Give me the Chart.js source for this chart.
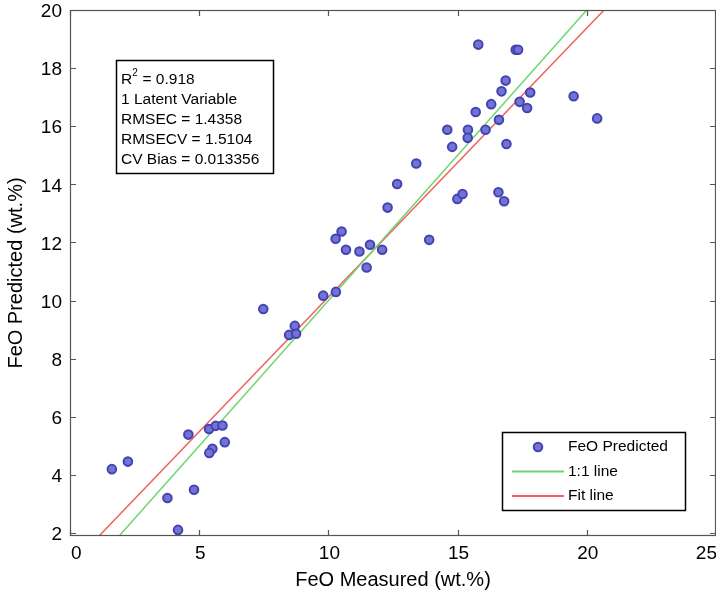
<!DOCTYPE html>
<html>
<head>
<meta charset="utf-8">
<script src="https://cdn.jsdelivr.net/npm/chart.js@4.4.1/dist/chart.umd.min.js"></script>
<style>
body { margin: 0; background: #fff; }
#grafica { display: block; }
</style>
</head>
<body>
<canvas id="grafica" width="716" height="594"></canvas>
<script>
// valores
const feoMedido   = [12.66, 12.29, 10.51, 10.28, 10.68, 11.20, 11.61, 12.08, 11.48, 15.80,
                     17.25, 17.34, 16.86, 16.70, 17.81, 19.49, 16.30, 17.40, 15.70, 17.69,
                     20.40, 16.60, 14.60, 15.40, 16.08, 15.39, 14.79, 16.89, 13.40, 14.99,
                     15.19, 16.58, 16.80, 13.90, 9.80, 10.29, 7.48, 8.70, 8.48, 8.75,
                     4.58, 5.38, 5.64, 5.90, 5.99, 5.51, 5.39, 1.62, 2.24, 3.77,
                     4.80, 4.18];
const feoPredicho = [14.01, 13.20, 12.38, 12.13, 11.75, 11.69, 11.92, 11.75, 11.14, 18.81,
                     18.63, 18.63, 17.57, 17.20, 17.16, 17.03, 16.76, 16.84, 16.49, 16.63,
                     16.27, 16.22, 15.88, 15.88, 15.88, 15.60, 15.29, 15.39, 14.72, 13.50,
                     13.67, 13.73, 13.42, 12.09, 10.17, 10.30, 9.71, 9.13, 8.82, 8.86,
                     5.39, 5.58, 5.69, 5.70, 5.13, 4.90, 4.76, 4.20, 4.46, 3.21,
                     3.49, 2.11];
const lineaUnoX = [0, 25];
const lineaUnoY = [0, 25];
const lineaAjusteX = [0, 25];
const lineaAjusteY = [0.86, 24.01];
const ticksX = [0, 5, 10, 15, 20, 25];
const ticksY = [2, 4, 6, 8, 10, 12, 14, 16, 18, 20];
const estadisticas = ['R^2 = 0.918', '1 Latent Variable', 'RMSEC = 1.4358', 'RMSECV = 1.5104', 'CV Bias = 0.013356'];
const etiquetas = ['FeO Predicted', '1:1 line', 'Fit line'];

const fuente = '"Liberation Sans", Arial, sans-serif';
let grafica;

function puntos(xs, ys) {
    return xs.map((x, i) => ({ x: x, y: ys[i] }));
}

// marco, ticks hacia dentro, caja de texto y leyenda
const marcoPlugin = {
    id: 'marco',
    afterDraw(chart) {
        const ctx = chart.ctx;
        const a = chart.chartArea;
        const sx = chart.scales.x;
        const sy = chart.scales.y;
        ctx.save();
        ctx.strokeStyle = '#555';
        ctx.lineWidth = 1.2;
        ctx.strokeRect(a.left + 0.5, a.top + 0.5, a.right - a.left - 1, a.bottom - a.top - 1);
        ctx.beginPath();
        ticksX.forEach(v => {
            const px = Math.round(sx.getPixelForValue(v)) + 0.5;
            ctx.moveTo(px, a.bottom); ctx.lineTo(px, a.bottom - 6);
            ctx.moveTo(px, a.top); ctx.lineTo(px, a.top + 6);
        });
        ticksY.forEach(v => {
            const py = Math.round(sy.getPixelForValue(v)) + 0.5;
            ctx.moveTo(a.left, py); ctx.lineTo(a.left + 6, py);
            ctx.moveTo(a.right, py); ctx.lineTo(a.right - 6, py);
        });
        ctx.stroke();

        // caja de estadisticas
        ctx.fillStyle = '#fff';
        ctx.fillRect(116.5, 60.5, 157, 113);
        ctx.strokeStyle = '#000';
        ctx.lineWidth = 1.5;
        ctx.strokeRect(116.5, 60.5, 157, 113);
        ctx.fillStyle = '#000';
        ctx.textBaseline = 'alphabetic';
        ctx.textAlign = 'left';
        estadisticas.forEach((t, i) => {
            const y = 84 + i * 20;
            ctx.font = '15.5px ' + fuente;
            if (t.startsWith('R^2')) {
                ctx.fillText('R', 121, y);
                const w = ctx.measureText('R').width;
                ctx.font = '10px ' + fuente;
                ctx.fillText('2', 121 + w, y - 8);
                ctx.font = '15.5px ' + fuente;
                ctx.fillText(t.slice(3), 121 + w + 6, y);
            } else {
                ctx.fillText(t, 121, y);
            }
        });

        // leyenda
        ctx.fillStyle = '#fff';
        ctx.fillRect(502.5, 432.5, 183, 78);
        ctx.strokeStyle = '#000';
        ctx.lineWidth = 1.5;
        ctx.strokeRect(502.5, 432.5, 183, 78);
        chart.data.datasets.forEach((ds, i) => {
            const y = 447 + i * 24.5;
            if (ds.showLine) {
                ctx.strokeStyle = ds.borderColor;
                ctx.lineWidth = 2;
                ctx.beginPath();
                ctx.moveTo(512, y); ctx.lineTo(564, y);
                ctx.stroke();
            } else {
                ctx.fillStyle = ds.backgroundColor;
                ctx.strokeStyle = ds.borderColor;
                ctx.lineWidth = ds.borderWidth;
                ctx.beginPath();
                ctx.arc(538, y, ds.pointRadius, 0, Math.PI * 2);
                ctx.fill();
                ctx.stroke();
            }
            ctx.fillStyle = '#000';
            ctx.font = '15.5px ' + fuente;
            ctx.textBaseline = 'middle';
            ctx.fillText(ds.label, 568, y);
        });
        ctx.restore();
    }
};

function crearGrafica() {
    const ctx = document.getElementById('grafica');
    const config = {
        type: 'scatter',
        data: {
            datasets: [{
                label: etiquetas[0],
                data: puntos(feoMedido, feoPredicho),
                backgroundColor: '#7373d4',
                borderColor: '#4343b2',
                borderWidth: 2,
                pointRadius: 4.3,
                showLine: false
            }, {
                label: etiquetas[1],
                data: puntos(lineaUnoX, lineaUnoY),
                borderColor: 'rgb(110, 214, 110)',
                borderWidth: 1.5,
                pointRadius: 0,
                showLine: true
            }, {
                label: etiquetas[2],
                data: puntos(lineaAjusteX, lineaAjusteY),
                borderColor: 'rgb(242, 96, 96)',
                borderWidth: 1.5,
                pointRadius: 0,
                showLine: true
            }]
        },
        options: {
            responsive: false,
            animation: false,
            devicePixelRatio: 1,
            layout: { autoPadding: false, padding: { top: 10, right: 0, bottom: 0, left: 0 } },
            plugins: {
                legend: { display: false },
                tooltip: { enabled: false }
            },
            scales: {
                x: {
                    type: 'linear',
                    min: 0,
                    max: 25,
                    grid: { display: false, drawTicks: false },
                    border: { display: false },
                    ticks: { color: '#000', font: { family: fuente, size: 19 }, padding: 6,
                             labelOffset: 1, align: 'inner' },
                    afterBuildTicks: (s) => { s.ticks = ticksX.map(v => ({ value: v })); },
                    afterFit: (s) => { s.height = 58; s.paddingLeft = 0; s.paddingRight = 0; },
                    title: { display: true, text: 'FeO Measured (wt.%)', color: '#000',
                             font: { family: fuente, size: 20 }, padding: { top: 0, bottom: 2 } }
                },
                y: {
                    type: 'linear',
                    min: 1.9,
                    max: 20,
                    grid: { display: false, drawTicks: false },
                    border: { display: false },
                    ticks: { color: '#000', font: { family: fuente, size: 19 }, padding: 8, labelOffset: 2 },
                    afterBuildTicks: (s) => { s.ticks = ticksY.map(v => ({ value: v })); },
                    afterFit: (s) => { s.width = 70; s.paddingTop = 0; s.paddingBottom = 0; },
                    title: { display: true, text: 'FeO Predicted (wt.%)', color: '#000',
                             font: { family: fuente, size: 20 }, padding: { top: 4, bottom: 0 } }
                }
            }
        },
        plugins: [marcoPlugin]
    };
    if (grafica instanceof Chart) {
        grafica.destroy();
    }
    grafica = new Chart(ctx, config);
}

document.addEventListener('DOMContentLoaded', crearGrafica);
</script>
</body>
</html>
